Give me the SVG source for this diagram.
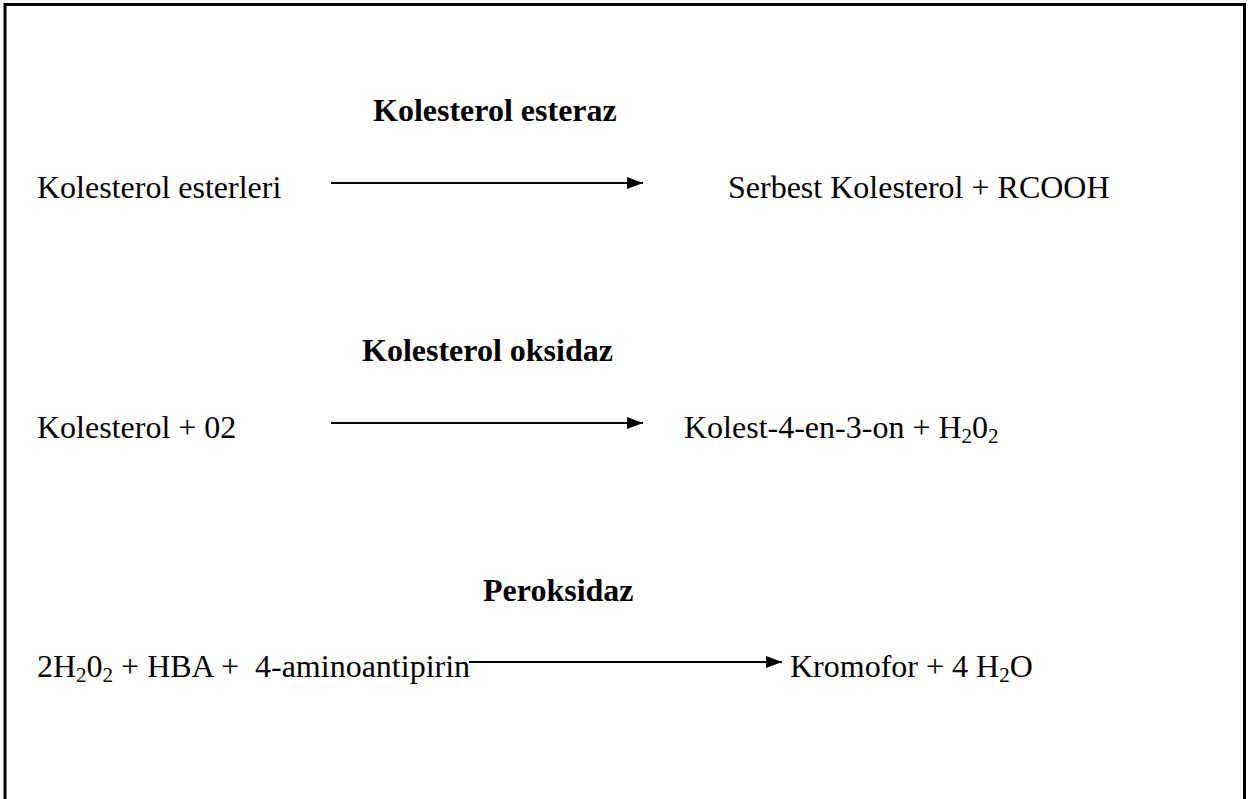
<svg xmlns="http://www.w3.org/2000/svg" width="1258" height="799" viewBox="0 0 1258 799">
<style>
.t{font-family:"Liberation Serif","Times New Roman",serif;font-size:32px;fill:#000}
.b{font-weight:bold}
.sub{font-size:21px}
.arr{stroke:#000;stroke-width:2;fill:none}
</style>
<defs>
<marker id="ah" viewBox="0 0 16 12" refX="16" refY="6" markerWidth="16" markerHeight="12" markerUnits="userSpaceOnUse" orient="auto">
<path d="M0,0 L16,6 L0,12 Z" fill="#000"/>
</marker>
</defs>
<rect x="0" y="0" width="1258" height="799" fill="#fff"/>
<rect x="5" y="4.5" width="1239.5" height="820" fill="none" stroke="#000" stroke-width="3"/>
<g id="enzyme1"><text class="t b" x="373" y="121">Kolesterol esteraz</text></g>
<g id="reactant1"><text class="t" x="37" y="198">Kolesterol esterleri</text></g>
<g id="product1"><text class="t" x="728" y="198">Serbest Kolesterol + RCOOH</text></g>
<g id="enzyme2"><text class="t b" x="362" y="361">Kolesterol oksidaz</text></g>
<g id="reactant2"><text class="t" x="37" y="438">Kolesterol + 02</text></g>
<g id="product2"><text class="t" x="684" y="438">Kolest-4-en-3-on + H<tspan class="sub" dy="5">2</tspan><tspan dy="-5">0</tspan><tspan class="sub" dy="5">2</tspan></text></g>
<g id="enzyme3"><text class="t b" x="483" y="601">Peroksidaz</text></g>
<g id="reactant3"><text class="t" x="37" y="677" xml:space="preserve">2H<tspan class="sub" dy="5">2</tspan><tspan dy="-5">0</tspan><tspan class="sub" dy="5">2</tspan><tspan dy="-5"> + HBA +  4-aminoantipirin</tspan></text></g>
<g id="product3"><text class="t" x="790" y="677">Kromofor + 4 H<tspan class="sub" dy="5">2</tspan><tspan dy="-5">O</tspan></text></g>
<g id="connectors">
<line class="arr" x1="331" y1="183" x2="643" y2="183" marker-end="url(#ah)"/>
<line class="arr" x1="331" y1="423" x2="643" y2="423" marker-end="url(#ah)"/>
<line class="arr" x1="469" y1="662" x2="782" y2="662" marker-end="url(#ah)"/>
</g>
</svg>
